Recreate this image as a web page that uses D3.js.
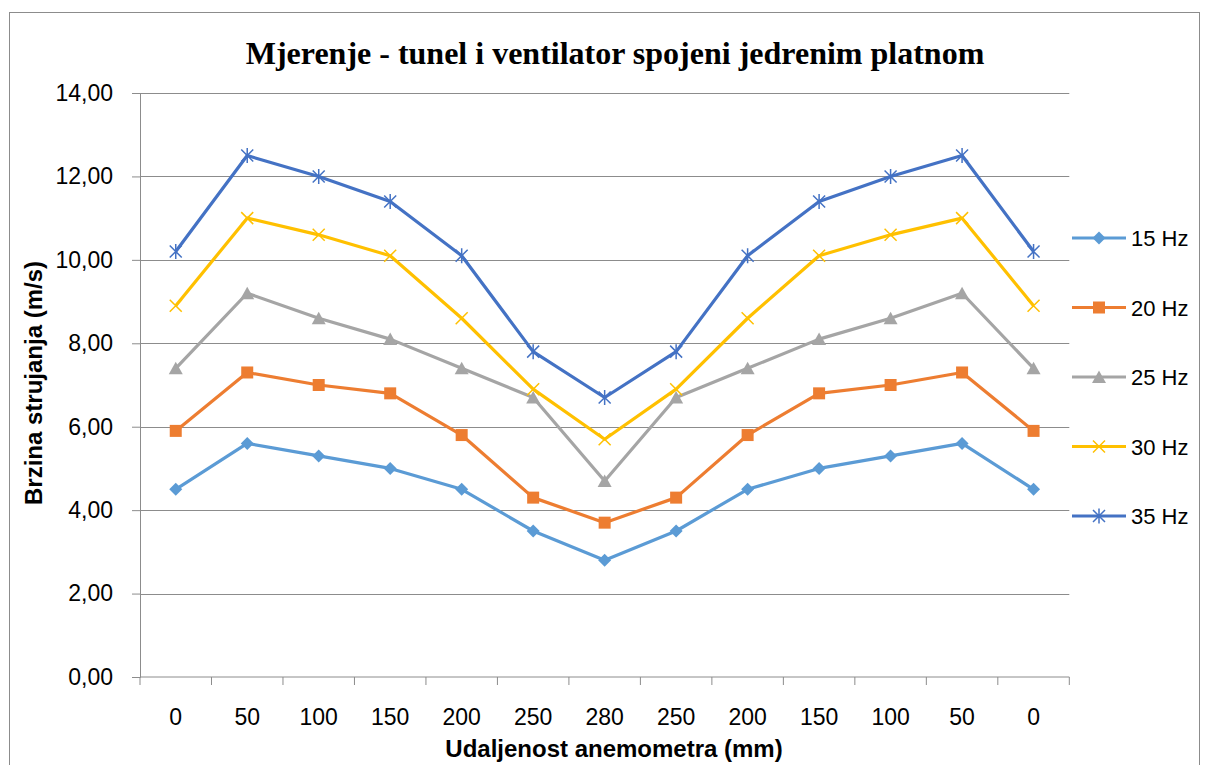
<!DOCTYPE html>
<html>
<head>
<meta charset="utf-8">
<script src="https://cdnjs.cloudflare.com/ajax/libs/d3/7.8.5/d3.min.js"></script>
<style>
  body { margin: 0; background: #fff; }
  svg { display: block; }
  .tick text { font-family: "Liberation Sans", Arial, sans-serif; font-size: 23px; fill: #000; }
</style>
</head>
<body>
<svg id="chart" width="1205" height="765"></svg>
<script>
//

const categories = ['0', '50', '100', '150', '200', '250', '280', '250', '200', '150', '100', '50', '0']
const seriesNames = ['15 Hz', '20 Hz', '25 Hz', '30 Hz', '35 Hz']
const hz15 = [4.5, 5.6, 5.3, 5.0, 4.5, 3.5, 2.8, 3.5, 4.5, 5.0, 5.3, 5.6, 4.5]
const hz20 = [5.9, 7.3, 7.0, 6.8, 5.8, 4.3, 3.7, 4.3, 5.8, 6.8, 7.0, 7.3, 5.9]
const hz25 = [7.4, 9.2, 8.6, 8.1, 7.4, 6.7, 4.7, 6.7, 7.4, 8.1, 8.6, 9.2, 7.4]
const hz30 = [8.9, 11.0, 10.6, 10.1, 8.6, 6.9, 5.7, 6.9, 8.6, 10.1, 10.6, 11.0, 8.9]
const hz35 = [10.2, 12.5, 12.0, 11.4, 10.1, 7.8, 6.7, 7.8, 10.1, 11.4, 12.0, 12.5, 10.2]
const yTicks = [0, 2, 4, 6, 8, 10, 12, 14]

const colors = ['#5B9BD5', '#ED7D31', '#A5A5A5', '#FFC000', '#4472C4']
const markers = ['diamond', 'square', 'triangle', 'x', 'star']
const series = [hz15, hz20, hz25, hz30, hz35].map((values, i) => ({
  name: seriesNames[i], values, color: colors[i], marker: markers[i]
}))

//

const plot = {left: 140, right: 1069.3, top: 93, bottom: 677}
const svg = d3.select('#chart')

svg.append('rect')
  .attr('x', 9.5).attr('y', 12.5)
  .attr('width', 1190).attr('height', 800)
  .attr('fill', '#fff').attr('stroke', '#8c8c8c').attr('stroke-width', 1)

const x = d3.scaleBand()
  .domain(d3.range(categories.length))
  .range([plot.left, plot.right])

const y = d3.scaleLinear()
  .domain([0, 14])
  .range([plot.bottom, plot.top])

// gridlines + y axis
const yAxis = d3.axisLeft(y)
  .tickValues(yTicks)
  .tickFormat((d) => d3.format('.2f')(d).replace('.', ','))
  .tickSize(8)
  .tickPadding(19)

const gy = svg.append('g')
  .attr('transform', `translate(${plot.left},0)`)
  .call(yAxis)
gy.select('.domain').attr('stroke', '#8c8c8c')
gy.selectAll('.tick line').attr('stroke', '#8c8c8c')

svg.append('g')
  .selectAll('line')
  .data(yTicks.filter((d) => d > 0))
  .join('line')
  .attr('x1', plot.left).attr('x2', plot.right)
  .attr('y1', (d) => Math.round(y(d)) + 0.5).attr('y2', (d) => Math.round(y(d)) + 0.5)
  .attr('stroke', '#8c8c8c').attr('stroke-width', 1)

// x axis with ticks between categories
const xAxis = d3.axisBottom(x)
  .tickFormat((i) => categories[i])
  .tickSize(0)
  .tickPadding(32)

const gx = svg.append('g')
  .attr('transform', `translate(0,${plot.bottom})`)
  .call(xAxis)
gx.select('.domain').remove()

gx.append('line')
  .attr('x1', plot.left).attr('x2', plot.right)
  .attr('stroke', '#8c8c8c')
gx.selectAll('.sep')
  .data(d3.range(categories.length + 1))
  .join('line')
  .attr('class', 'sep')
  .attr('x1', (i) => plot.left + i * x.step()).attr('x2', (i) => plot.left + i * x.step())
  .attr('y1', 0).attr('y2', 8)
  .attr('stroke', '#8c8c8c')

//

const markerShape = (g, type, color) => {
  if (type === 'diamond') {
    g.append('path').attr('d', 'M0,-6.5L6.5,0L0,6.5L-6.5,0Z').attr('fill', color)
  } else if (type === 'square') {
    g.append('rect').attr('x', -6).attr('y', -6).attr('width', 12).attr('height', 12).attr('fill', color)
  } else if (type === 'triangle') {
    g.append('path').attr('d', 'M0,-6.5L7,6L-7,6Z').attr('fill', color)
  } else if (type === 'x') {
    g.append('path').attr('d', 'M-6,-6L6,6M6,-6L-6,6')
      .attr('stroke', color).attr('stroke-width', 1.5).attr('fill', 'none')
  } else {
    g.append('path').attr('d', 'M-6,-6L6,6M6,-6L-6,6M0,-7.5L0,7.5')
      .attr('stroke', color).attr('stroke-width', 1.5).attr('fill', 'none')
  }
}

const line = d3.line()
  .x((d, i) => x(i) + x.bandwidth() / 2)
  .y((d) => y(d))

const gSeries = svg.append('g')
series.forEach((s) => {
  gSeries.append('path')
    .datum(s.values)
    .attr('d', line)
    .attr('fill', 'none')
    .attr('stroke', s.color)
    .attr('stroke-width', 3.2)
    .attr('stroke-linejoin', 'round')
})
series.forEach((s) => {
  s.values.forEach((v, i) => {
    const g = gSeries.append('g')
      .attr('transform', `translate(${x(i) + x.bandwidth() / 2},${y(v)})`)
    markerShape(g, s.marker, s.color)
  })
})

// legend
const legend = svg.append('g')
series.forEach((s, i) => {
  const ly = 238 + i * 69.5
  legend.append('line')
    .attr('x1', 1072).attr('x2', 1126)
    .attr('y1', ly).attr('y2', ly)
    .attr('stroke', s.color).attr('stroke-width', 3.2)
  markerShape(legend.append('g').attr('transform', `translate(1099,${ly})`), s.marker, s.color)
  legend.append('text')
    .attr('x', 1131).attr('y', ly + 8)
    .attr('font-family', '"Liberation Sans", Arial, sans-serif')
    .attr('font-size', 22)
    .text(s.name)
})

// titles
svg.append('text')
  .attr('x', 615).attr('y', 64)
  .attr('text-anchor', 'middle')
  .attr('font-family', '"Liberation Serif", "Times New Roman", serif')
  .attr('font-weight', 'bold')
  .attr('font-size', 32)
  .text('Mjerenje - tunel i ventilator spojeni jedrenim platnom')

svg.append('text')
  .attr('x', 614).attr('y', 757)
  .attr('text-anchor', 'middle')
  .attr('font-family', '"Liberation Sans", Arial, sans-serif')
  .attr('font-weight', 'bold')
  .attr('font-size', 24)
  .text('Udaljenost anemometra (mm)')

svg.append('text')
  .attr('transform', 'translate(42,383) rotate(-90)')
  .attr('text-anchor', 'middle')
  .attr('font-family', '"Liberation Sans", Arial, sans-serif')
  .attr('font-weight', 'bold')
  .attr('font-size', 24)
  .text('Brzina strujanja (m/s)')
</script>
</body>
</html>
